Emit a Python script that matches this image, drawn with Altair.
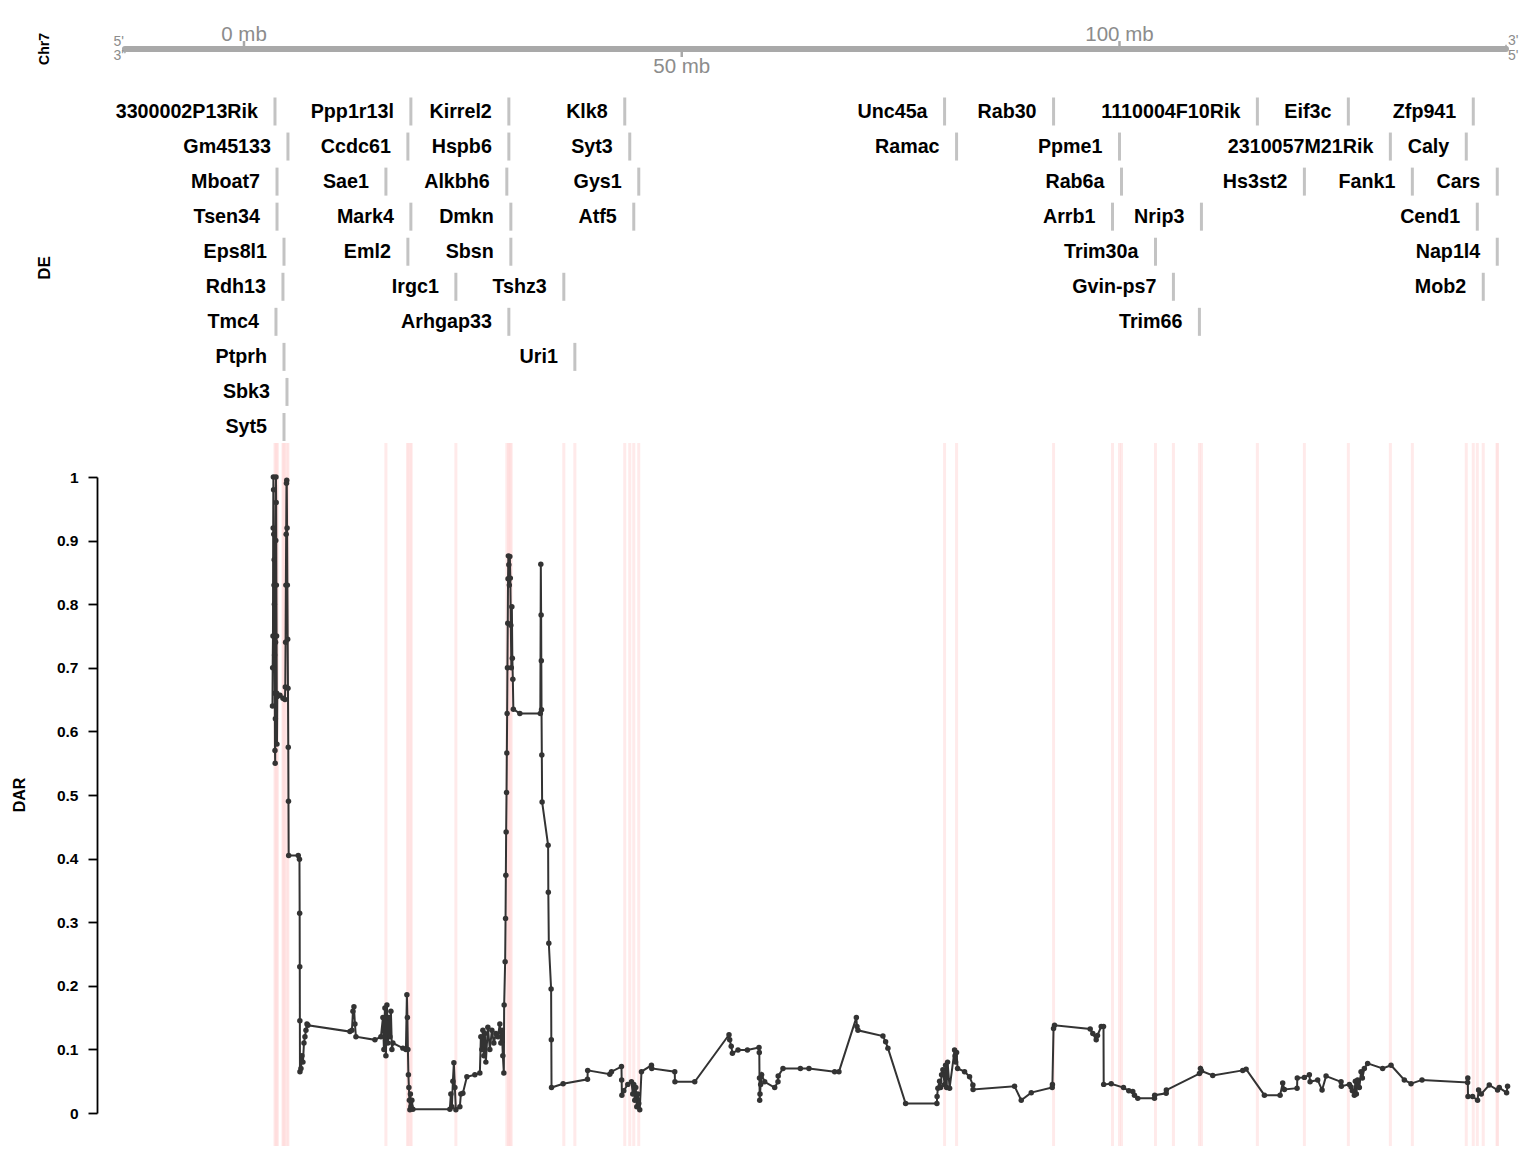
import altair as alt
import pandas as pd

# ---------------- data ----------------
gene_names = [
    "3300002P13Rik", "Ppp1r13l", "Kirrel2", "Klk8", "Unc45a", "Rab30", "1110004F10Rik", "Eif3c", "Zfp941",
    "Gm45133", "Ccdc61", "Hspb6", "Syt3", "Ramac", "Ppme1", "2310057M21Rik", "Caly",
    "Mboat7", "Sae1", "Alkbh6", "Gys1", "Rab6a", "Hs3st2", "Fank1", "Cars",
    "Tsen34", "Mark4", "Dmkn", "Atf5", "Arrb1", "Nrip3", "Cend1",
    "Eps8l1", "Eml2", "Sbsn", "Trim30a", "Nap1l4",
    "Rdh13", "Irgc1", "Tshz3", "Gvin-ps7", "Mob2",
    "Tmc4", "Arhgap33", "Trim66",
    "Ptprh", "Uri1",
    "Sbk3",
    "Syt5",
]
gene_pos = [
    3.54, 19.06, 30.25, 43.49, 80.02, 92.47, 115.75, 126.14, 140.41,
    5.02, 18.72, 30.25, 44.06, 81.39, 100.00, 130.94, 139.61,
    3.77, 16.21, 30.02, 45.09, 100.23, 121.12, 133.45, 143.15,
    3.77, 19.06, 30.48, 44.52, 99.20, 109.36, 140.87,
    4.57, 18.72, 30.48, 104.11, 143.15,
    4.45, 24.20, 36.53, 106.16, 141.55,
    3.65, 30.25, 109.13,
    4.57, 37.79,
    4.91,
    4.57,
]
gene_row = [0] * 9 + [1] * 8 + [2] * 8 + [3] * 7 + [4] * 5 + [5] * 5 + [6] * 3 + [7] * 2 + [8] + [9]

# DAR track: (position in mb, DAR value)
dar_points = [
    (3.253, 0.64), (3.276, 0.70), (3.311, 0.75), (3.333, 0.92), (3.356, 1.0), (3.379, 0.98),
    (3.402, 0.91), (3.425, 0.83), (3.447, 0.87), (3.470, 0.80), (3.493, 0.72), (3.516, 0.66),
    (3.539, 0.57), (3.562, 0.55), (3.584, 0.62), (3.607, 0.74), (3.630, 0.90), (3.653, 1.0),
    (3.676, 0.96), (3.699, 0.83), (3.721, 0.75), (3.744, 0.66), (3.767, 0.58), (3.801, 0.655),
    (4.110, 0.657), (4.452, 0.652), (4.680, 0.65),
    (4.715, 0.67), (4.749, 0.74), (4.783, 0.83), (4.817, 0.91), (4.852, 0.99), (4.886, 0.995),
    (4.920, 0.92), (4.954, 0.83), (4.989, 0.745), (5.023, 0.668), (5.057, 0.575), (5.080, 0.49),
    (5.103, 0.405), (6.199, 0.405), (6.336, 0.399), (6.358, 0.314), (6.370, 0.23), (6.381, 0.145),
    (6.393, 0.065), (6.507, 0.07), (6.621, 0.09), (6.735, 0.08), (6.849, 0.11), (6.963, 0.12),
    (7.078, 0.13), (7.192, 0.14), (7.306, 0.138),
    (12.100, 0.128), (12.329, 0.13), (12.443, 0.16), (12.557, 0.167), (12.671, 0.14), (12.785, 0.12),
    (14.954, 0.115), (15.639, 0.12), (15.868, 0.15), (15.982, 0.10), (16.096, 0.165), (16.210, 0.09),
    (16.324, 0.17), (16.438, 0.11), (16.553, 0.15), (16.667, 0.12), (16.781, 0.16), (16.895, 0.10),
    (17.009, 0.11), (18.151, 0.102), (18.493, 0.10), (18.607, 0.186), (18.664, 0.15), (18.721, 0.10),
    (18.779, 0.06), (18.836, 0.04), (18.893, 0.02), (18.950, 0.005), (19.007, 0.03), (19.064, 0.01),
    (19.178, 0.02), (19.292, 0.006),
    (23.516, 0.006), (23.630, 0.03), (23.744, 0.01), (23.858, 0.05), (23.973, 0.079), (24.087, 0.04),
    (24.201, 0.005), (24.657, 0.01), (24.772, 0.03), (25.000, 0.031), (25.457, 0.057), (26.370, 0.06),
    (26.941, 0.063), (27.055, 0.12), (27.169, 0.10), (27.283, 0.13), (27.397, 0.09), (27.511, 0.125),
    (27.626, 0.08), (27.854, 0.135), (28.082, 0.10), (28.311, 0.13), (28.539, 0.11), (28.767, 0.125),
    (28.995, 0.12), (29.224, 0.14), (29.338, 0.11), (29.452, 0.13), (29.566, 0.09), (29.680, 0.063),
    (29.715, 0.17), (29.829, 0.238), (29.875, 0.306), (29.909, 0.374), (29.943, 0.442), (29.989, 0.504),
    (30.023, 0.566), (30.057, 0.628), (30.091, 0.70), (30.126, 0.77), (30.160, 0.84), (30.194, 0.876),
    (30.251, 0.862), (30.308, 0.83), (30.365, 0.875), (30.422, 0.841), (30.479, 0.767), (30.536, 0.70),
    (30.594, 0.796), (30.651, 0.715), (30.708, 0.682), (30.765, 0.635), (31.507, 0.628), (33.847, 0.628),
    (33.904, 0.863), (33.938, 0.783), (33.961, 0.711), (33.984, 0.634), (34.018, 0.563), (34.052, 0.489),
    (34.737, 0.421), (34.760, 0.347), (34.817, 0.267), (35.080, 0.195), (35.103, 0.115), (35.126, 0.040),
    (36.450, 0.046), (39.235, 0.053), (39.258, 0.067), (41.781, 0.061), (41.975, 0.065), (43.116, 0.073),
    (43.139, 0.052), (43.162, 0.028), (43.379, 0.035), (43.836, 0.045), (44.258, 0.049), (44.406, 0.03),
    (44.520, 0.045), (44.635, 0.02), (44.749, 0.04), (44.863, 0.01), (44.977, 0.03), (45.091, 0.015),
    (45.205, 0.005), (45.400, 0.065), (46.541, 0.075), (46.575, 0.07), (49.201, 0.065), (49.224, 0.049),
    (51.484, 0.049), (55.400, 0.123), (55.479, 0.115), (55.651, 0.105), (55.788, 0.094), (56.427, 0.099),
    (57.500, 0.099), (58.824, 0.103), (58.858, 0.095), (58.881, 0.055), (58.904, 0.020), (58.938, 0.03),
    (59.018, 0.045), (59.132, 0.06), (59.475, 0.049), (60.616, 0.040), (60.993, 0.049), (61.016, 0.058),
    (61.564, 0.070), (63.550, 0.070), (64.532, 0.070), (67.466, 0.065), (67.957, 0.065), (69.943, 0.150),
    (70.011, 0.136), (70.125, 0.130), (72.979, 0.121), (73.288, 0.112), (73.550, 0.102), (75.571, 0.015),
    (79.144, 0.015), (79.167, 0.026), (79.258, 0.039), (79.452, 0.05), (79.566, 0.04), (79.680, 0.06),
    (79.829, 0.068), (80.023, 0.045), (80.137, 0.075), (80.251, 0.04), (80.365, 0.08), (80.594, 0.039),
    (81.164, 0.099), (81.221, 0.09), (81.278, 0.08), (81.393, 0.095), (81.507, 0.07), (82.306, 0.065),
    (82.877, 0.057), (83.253, 0.044), (83.276, 0.037), (88.014, 0.042), (88.778, 0.020), (89.920, 0.032),
    (92.317, 0.040), (92.340, 0.045), (92.466, 0.133), (92.580, 0.138), (96.655, 0.132), (96.952, 0.125),
    (97.340, 0.115), (97.489, 0.122), (97.911, 0.136), (98.173, 0.136), (98.196, 0.045), (99.052, 0.046),
    (100.457, 0.040), (101.062, 0.035), (101.518, 0.034), (101.712, 0.028), (102.089, 0.023), (103.995, 0.023),
    (104.018, 0.028), (105.331, 0.031), (105.354, 0.036), (109.132, 0.062), (109.246, 0.070), (109.361, 0.066),
    (110.651, 0.059), (114.076, 0.067), (114.464, 0.069), (116.553, 0.028), (118.344, 0.028), (118.641, 0.047),
    (118.836, 0.037), (120.285, 0.039), (120.308, 0.055), (121.119, 0.056), (121.689, 0.060), (121.769, 0.049),
    (122.637, 0.052), (123.139, 0.036), (123.596, 0.058), (125.308, 0.049), (125.342, 0.042), (126.256, 0.045),
    (126.450, 0.041), (126.598, 0.035), (126.826, 0.028), (126.941, 0.05), (127.055, 0.03), (127.203, 0.052),
    (127.397, 0.04), (127.591, 0.065), (127.740, 0.055), (127.968, 0.070), (128.345, 0.078), (130.057, 0.070),
    (131.016, 0.075), (132.534, 0.052), (133.300, 0.046), (134.553, 0.052), (139.762, 0.048), (139.783, 0.055),
    (139.806, 0.026), (140.331, 0.026), (140.902, 0.020), (141.016, 0.036), (141.324, 0.03), (142.237, 0.044),
    (143.187, 0.036), (143.379, 0.04), (144.215, 0.032), (144.326, 0.042),
]

# chromosome ideogram
ideo_start = [-13.6]
ideo_end = [144.15]
mb_up_ticks = [0, 100]
mb_up_labels = ["0 mb", "100 mb"]
mb_down_ticks = [50]
mb_down_labels = ["50 mb"]
dar_ticks = [0, 0.1, 0.2, 0.3, 0.4, 0.5, 0.6, 0.7, 0.8, 0.9, 1.0]

# ---------------- frames ----------------
genes = pd.DataFrame({"gene": gene_names, "pos": gene_pos, "row": gene_row})
dar = pd.DataFrame(dar_points, columns=["pos", "dar"])
ideo = pd.DataFrame({"start": ideo_start, "end": ideo_end})
up = pd.DataFrame({"mb": mb_up_ticks, "label": mb_up_labels})
down = pd.DataFrame({"mb": mb_down_ticks, "label": mb_down_labels})
ends_left = pd.DataFrame({"x": ideo_start, "top": ["5'"], "bot": ["3'"]})
ends_right = pd.DataFrame({"x": ideo_end, "top": ["3'"], "bot": ["5'"]})

W, H = 1431, 1138
FONT = "Liberation Sans"
GREY = "#a9a9a9"
xs = alt.Scale(domain=[-16.79, 146.66], nice=False, zero=False)


def X(field):
    return alt.X(field, type="quantitative", scale=xs, axis=None)


row_scale = alt.Scale(domain=[0, 9], range=[103.5, 419], nice=False, zero=False)
dar_scale = alt.Scale(domain=[0, 1], range=[1105, 469], nice=False, zero=False)

bands = alt.Chart(genes).mark_rule(color="#ffdcdc", strokeWidth=3, opacity=0.6).encode(
    x=X("pos"), y=alt.value(435), y2=alt.value(1138)
)

gene_ticks = alt.Chart(genes).mark_tick(
    orient="vertical", size=28, thickness=3, color="#aaaaaa"
).encode(x=X("pos"), y=alt.Y("row:Q", scale=row_scale, axis=None))

gene_text = alt.Chart(genes).mark_text(
    align="right", baseline="middle", dx=-17, font=FONT, fontSize=19.7, fontWeight="bold", color="black"
).encode(x=X("pos"), y=alt.Y("row:Q", scale=row_scale, axis=None), text="gene:N")

dar_line = alt.Chart(dar).mark_line(color="#333333", strokeWidth=2).encode(
    x=X("pos"),
    y=alt.Y(
        "dar:Q",
        scale=dar_scale,
        axis=alt.Axis(
            orient="left", values=dar_ticks, format=".1~f", title=None, grid=False,
            domainColor="black", domainWidth=1.8, tickColor="black", tickWidth=1.8, tickSize=9,
            labelFont=FONT, labelFontWeight="bold", labelFontSize=15.5, labelPadding=10,
            labelColor="black",
        ),
    ),
)
dar_pts = alt.Chart(dar).mark_circle(color="#333333", size=30, opacity=1).encode(
    x=X("pos"), y=alt.Y("dar:Q", scale=dar_scale, axis=None)
)

chrom = alt.Chart(ideo).mark_rule(color=GREY, strokeWidth=6, strokeCap="round").encode(
    x=X("start"), x2="end", y=alt.value(41)
)
up_ticks = alt.Chart(up).mark_rule(color=GREY, strokeWidth=2.5).encode(
    x=X("mb"), y=alt.value(33), y2=alt.value(41)
)
down_ticks = alt.Chart(down).mark_rule(color=GREY, strokeWidth=2.5).encode(
    x=X("mb"), y=alt.value(41), y2=alt.value(49)
)
up_text = alt.Chart(up).mark_text(
    baseline="middle", font=FONT, fontSize=20.5, color="#8c8c8c"
).encode(x=X("mb"), y=alt.value(27), text="label:N")
down_text = alt.Chart(down).mark_text(
    baseline="middle", font=FONT, fontSize=20.5, color="#8c8c8c"
).encode(x=X("mb"), y=alt.value(59), text="label:N")

end_style = dict(baseline="middle", font=FONT, fontSize=14, color="#8c8c8c")
left_top = alt.Chart(ends_left).mark_text(align="right", dx=-1, **end_style).encode(
    x=X("x"), y=alt.value(34), text="top:N")
left_bot = alt.Chart(ends_left).mark_text(align="right", dx=-1, **end_style).encode(
    x=X("x"), y=alt.value(48), text="bot:N")
right_top = alt.Chart(ends_right).mark_text(align="left", dx=2, **end_style).encode(
    x=X("x"), y=alt.value(33), text="top:N")
right_bot = alt.Chart(ends_right).mark_text(align="left", dx=2, **end_style).encode(
    x=X("x"), y=alt.value(48), text="bot:N")

left_hook = alt.Chart(ends_left).mark_point(
    shape="triangle-down", filled=True, size=18, color=GREY, opacity=1
).encode(x=X("x"), y=alt.value(44))
right_hook = alt.Chart(ends_right).mark_point(
    shape="triangle-up", filled=True, size=18, color=GREY, opacity=1
).encode(x=X("x"), y=alt.value(38))


def side_title(txt, x, y, size):
    return alt.Chart(pd.DataFrame({"t": [txt]})).mark_text(
        angle=270, align="center", baseline="middle", font=FONT, fontSize=size,
        fontWeight="bold", color="black"
    ).encode(x=alt.value(x), y=alt.value(y), text="t:N")


chart = alt.layer(
    bands, dar_line, dar_pts, gene_ticks, gene_text,
    chrom, left_hook, right_hook, up_ticks, down_ticks, up_text, down_text,
    left_top, left_bot, right_top, right_bot,
    side_title("Chr7", -52, 41, 14),
    side_title("DE", -52, 260, 17),
    side_title("DAR", -77, 787, 16),
).resolve_scale(y="independent").properties(
    width=W, height=H,
    autosize=alt.AutoSizeParams(type="none"),
    padding={"left": 89, "top": 0, "right": 0, "bottom": 0},
).configure_view(strokeWidth=0)

chart.save("out.html", embed_options={"renderer": "svg", "actions": False})
